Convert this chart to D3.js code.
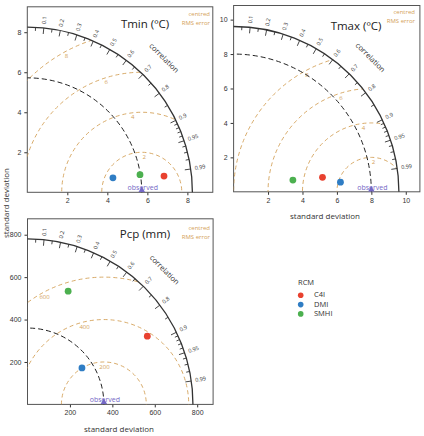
<!DOCTYPE html>
<html>
<head>
<meta charset="utf-8">
<style>
  body { margin: 0; background: #fff; }
  svg { font-family: "Open Sans", "Liberation Sans", sans-serif; }
  .axis text { font-size: 7px; fill: #333; }
  .axis line { stroke: #333; }
</style>
</head>
<body>
<script src="https://cdn.jsdelivr.net/npm/d3@7"></script>
<script>

  const models = ['C4I', 'DMI', 'SMHI'],
        modelColors = ['#e8412f', '#2f7dc4', '#4cb04f']

  // standard deviation and correlation of each RCM (order as models)
  const tminSd = [6.88, 4.34, 5.70],
        tminCor = [0.993, 0.986, 0.988]
  const tmaxSd = [5.23, 6.23, 3.51],
        tmaxCor = [0.987, 0.996, 0.981]
  const pcpSd = [650, 309, 567],
        pcpCor = [0.869, 0.831, 0.338]

  const obsSd = [5.72, 8.0, 360]
  const maxSd = [8.25, 9.6, 780]
  const rmsLevels = [[2, 4, 6, 8], [2, 4, 6, 8], [200, 400, 600]]
  const axisTicks = [[2, 4, 6, 8], [2, 4, 6, 8, 10], [200, 400, 600, 800]]
  const titles = ['Tmin (ºC)', 'Tmax (ºC)', 'Pcp (mm)']

  const corMajor = [0.1, 0.2, 0.3, 0.4, 0.5, 0.6, 0.7, 0.8, 0.9, 0.95, 0.99]
  const corMinor = [0.05, 0.15, 0.25, 0.35, 0.45, 0.55, 0.65, 0.75, 0.85,
                    0.91, 0.92, 0.93, 0.94, 0.96, 0.97, 0.98]

  const colors = {tan: '#d4a259', obs: '#7468c6', dark: '#333'}

  // panel placement
  const layout = [
    {left: 27.3, bottom: 192.3, size: 185.5, domain: 9.27, titleX: 145, titleY: 28, noteX: 210, noteY: 16, labStep: 11, labBase: 75},
    {left: 233.6, bottom: 191.8, size: 186.3, domain: 10.82, titleX: 356, titleY: 30, noteX: 415, noteY: 14, labStep: 11, labBase: 75},
    {left: 27.5, bottom: 404.4, size: 185.6, domain: 875, titleX: 145, titleY: 238, noteX: 210, noteY: 230, labStep: 15, labBase: 74}
  ]
  const panelSd = [tminSd, tmaxSd, pcpSd],
        panelCor = [tminCor, tmaxCor, pcpCor]

  const svg = d3.select('body').append('svg')
      .attr('width', 424)
      .attr('height', 436)

  layout.forEach((L, i) => drawPanel(i, L))

  function drawPanel(i, L) {
    const x = d3.scaleLinear().domain([0, L.domain]).range([L.left, L.left + L.size])
    const y = d3.scaleLinear().domain([0, L.domain]).range([L.bottom, L.bottom - L.size])
    const k = x(1) - x(0)   // px per unit
    const cx = x(0), cy = y(0)
    const R = maxSd[i] * k
    const obs = obsSd[i]
    const g = svg.append('g')

    // axes
    g.append('g').attr('class', 'axis')
        .attr('transform', `translate(0, ${cy})`)
        .call(d3.axisBottom(x).tickValues(axisTicks[i]).tickSize(3).tickPadding(3))
      .call(s => s.select('.domain').remove())
    g.append('g').attr('class', 'axis')
        .attr('transform', `translate(${cx}, 0)`)
        .call(d3.axisLeft(y).tickValues(axisTicks[i]).tickSize(3).tickPadding(3))
      .call(s => s.select('.domain').remove())

    g.append('rect')
        .attr('x', L.left).attr('y', L.bottom - L.size)
        .attr('width', L.size).attr('height', L.size)
        .style('fill', 'none').style('stroke', '#555').style('stroke-width', 1)

    // clip to quarter disk
    const clipId = 'clip' + i
    const qp = d3.path()
    qp.moveTo(cx, cy); qp.lineTo(cx + R, cy); qp.arc(cx, cy, R, 0, -Math.PI / 2, true); qp.closePath()
    g.append('clipPath').attr('id', clipId).append('path').attr('d', qp.toString())

    // centred RMS arcs
    const ox = x(obs)
    g.append('g').attr('clip-path', `url(#${clipId})`)
      .selectAll('circle').data(rmsLevels[i]).enter()
      .append('circle')
        .attr('cx', ox).attr('cy', cy)
        .attr('r', d => d * k)
        .style('fill', 'none').style('stroke', colors.tan)
        .style('stroke-width', 0.9).style('stroke-dasharray', '4,3')

    g.selectAll('.rmsLab').data(rmsLevels[i]).enter()
      .append('text')
        .attr('class', 'rmsLab')
        .attr('x', (d, j) => ox + (d * k - 5) * Math.cos((L.labBase + L.labStep * (j + 1)) * Math.PI / 180))
        .attr('y', (d, j) => cy - (d * k - 5) * Math.sin((L.labBase + L.labStep * (j + 1)) * Math.PI / 180))
        .attr('text-anchor', 'middle').attr('dominant-baseline', 'middle')
        .style('font-size', '6px').style('fill', colors.tan)
        .text(d => d)

    // observed sd arc
    const op = d3.path()
    op.moveTo(cx + obs * k, cy); op.arc(cx, cy, obs * k, 0, -Math.PI / 2, true)
    g.append('path').attr('d', op.toString())
        .style('fill', 'none').style('stroke', '#222')
        .style('stroke-width', 1).style('stroke-dasharray', '5,3')

    // outer arc
    const ap = d3.path()
    ap.moveTo(cx + R, cy); ap.arc(cx, cy, R, 0, -Math.PI / 2, true)
    g.append('path').attr('d', ap.toString())
        .style('fill', 'none').style('stroke', colors.dark).style('stroke-width', 1.3)

    // correlation ticks and labels
    const tick = (c, len) => {
      const a = Math.acos(c)
      return g.append('line')
          .attr('x1', cx + R * Math.cos(a)).attr('y1', cy - R * Math.sin(a))
          .attr('x2', cx + (R - len) * Math.cos(a)).attr('y2', cy - (R - len) * Math.sin(a))
          .style('stroke', colors.dark).style('stroke-width', 0.9)
    }
    corMajor.forEach(c => tick(c, 6))
    corMinor.forEach(c => tick(c, 3.5))

    g.selectAll('.corLab').data(corMajor).enter()
      .append('text')
        .attr('class', 'corLab')
        .attr('transform', d => {
          const a = Math.acos(d)
          return `translate(${cx + (R + 4) * Math.cos(a)}, ${cy - (R + 4) * Math.sin(a)}) rotate(${-a * 180 / Math.PI})`
        })
        .attr('dominant-baseline', 'middle')
        .style('font-size', '5.5px').style('fill', colors.dark)
        .text(d => d)

    const ca = 44.5 * Math.PI / 180
    g.append('text')
        .attr('transform', `translate(${cx + (R + 26) * Math.cos(ca)}, ${cy - (R + 26) * Math.sin(ca)}) rotate(45)`)
        .attr('text-anchor', 'middle').attr('dominant-baseline', 'middle')
        .style('font-size', '7.5px').style('fill', colors.dark)
        .text('correlation')

    // observed marker
    g.append('path')
        .attr('d', d3.symbol(d3.symbolTriangle, 18)())
        .attr('transform', `translate(${ox}, ${cy - 2.2})`)
        .style('fill', colors.obs)
    g.append('text')
        .attr('x', ox + 1).attr('y', cy - 2)
        .attr('text-anchor', 'middle')
        .style('font-size', '7px').style('fill', colors.obs)
        .text('observed')

    // model points
    g.selectAll('.pt').data(models).enter()
      .append('circle')
        .attr('class', 'pt')
        .attr('cx', (d, j) => x(panelSd[i][j] * panelCor[i][j]))
        .attr('cy', (d, j) => y(panelSd[i][j] * Math.sqrt(1 - panelCor[i][j] ** 2)))
        .attr('r', 3.4)
        .style('fill', (d, j) => modelColors[j])

    // titles
    g.append('text')
        .attr('x', L.titleX).attr('y', L.titleY)
        .attr('text-anchor', 'middle')
        .style('font-size', '11.5px').style('fill', '#222')
        .text(titles[i])
    g.append('text')
        .attr('x', L.noteX).attr('y', L.noteY)
        .attr('text-anchor', 'end')
        .style('font-size', '6px').style('fill', colors.tan)
        .text('centred')
    g.append('text')
        .attr('x', L.noteX).attr('y', L.noteY + 8.5)
        .attr('text-anchor', 'end')
        .style('font-size', '6px').style('fill', colors.tan)
        .text('RMS error')
  }

  // axis titles
  svg.append('text')
      .attr('x', 119).attr('y', 432)
      .attr('text-anchor', 'middle')
      .style('font-size', '8px').style('fill', '#333')
      .text('standard deviation')
  svg.append('text')
      .attr('x', 325).attr('y', 219)
      .attr('text-anchor', 'middle')
      .style('font-size', '8px').style('fill', '#333')
      .text('standard deviation')
  svg.append('text')
      .attr('transform', 'translate(8.5, 203) rotate(-90)')
      .attr('text-anchor', 'middle')
      .style('font-size', '8px').style('fill', '#333')
      .text('standard deviation')

  // legend
  const lg = svg.append('g').attr('transform', 'translate(298, 282)')
  lg.append('text')
      .attr('x', 0).attr('y', 3)
      .style('font-size', '7.5px').style('fill', '#333')
      .text('RCM')
  lg.selectAll('circle').data(models).enter()
    .append('circle')
      .attr('cx', 2.7).attr('cy', (d, j) => 13.3 + j * 9.3)
      .attr('r', 2.8)
      .style('fill', (d, j) => modelColors[j])
  lg.selectAll('.lab').data(models).enter()
    .append('text')
      .attr('class', 'lab')
      .attr('x', 16).attr('y', (d, j) => 13.3 + j * 9.3)
      .attr('dominant-baseline', 'middle')
      .style('font-size', '7.5px').style('fill', '#333')
      .text(d => d)

</script>
</body>
</html>
